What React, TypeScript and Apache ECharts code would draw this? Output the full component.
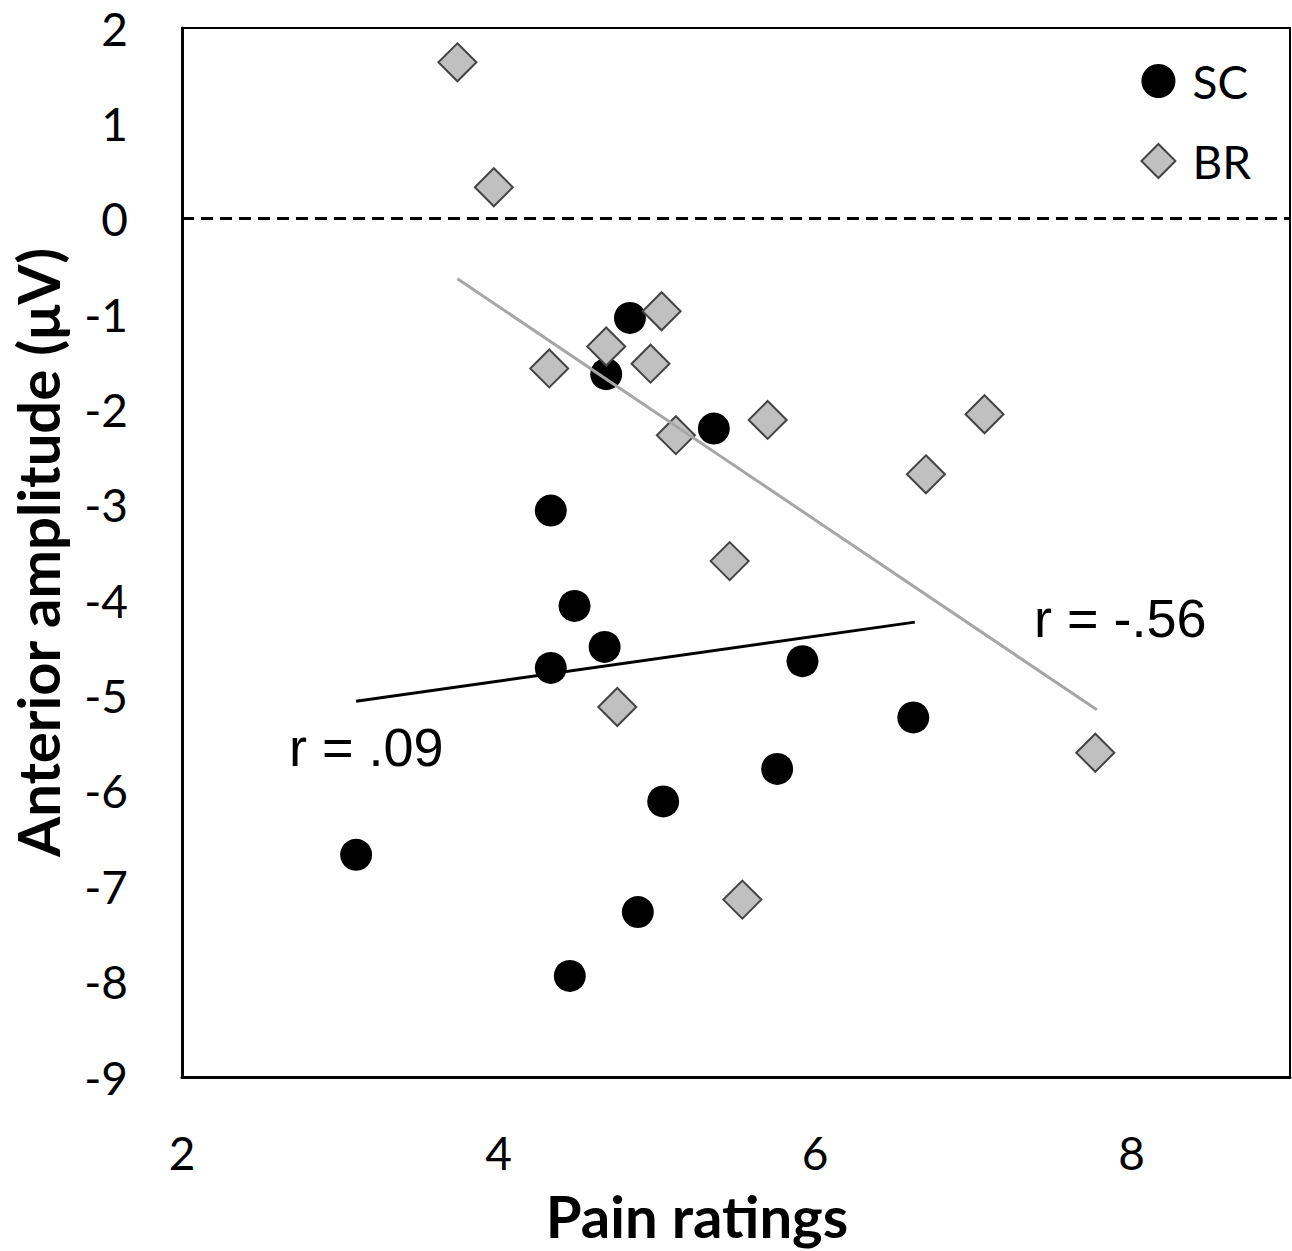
import React, { useEffect, useRef } from "react";
import * as echarts from "echarts";

// SC group (black circles): [pain rating, anterior amplitude]
const scPain = [4.83, 4.68, 5.36, 4.33, 4.48, 4.67, 4.33, 5.92, 6.62, 5.76, 5.04, 3.10, 4.88, 4.45];
const scAmp = [-1.04, -1.63, -2.20, -3.06, -4.06, -4.49, -4.71, -4.64, -5.23, -5.77, -6.11, -6.67, -7.27, -7.94];

// BR group (grey diamonds)
const brPain = [3.74, 3.97, 5.03, 4.68, 4.96, 4.32, 5.70, 5.12, 7.07, 6.70, 5.46, 4.75, 7.77, 5.54];
const brAmp = [1.64, 0.33, -0.97, -1.34, -1.52, -1.57, -2.11, -2.27, -2.05, -2.68, -3.59, -5.12, -5.60, -7.14];

// Trend line endpoints
const scTrendX = [3.10, 6.63];
const scTrendY = [-5.06, -4.23];
const brTrendX = [3.74, 7.78];
const brTrendY = [-0.63, -5.15];

const xTicks = [2, 4, 6, 8];
const yTicks = [2, 1, 0, -1, -2, -3, -4, -5, -6, -7, -8, -9];

const scR = "r = .09";
const brR = "r = -.56";

const zip = (a: number[], b: number[]) => a.map((v, i) => [v, b[i]]);

export default function App() {
  const ref = useRef<HTMLDivElement>(null);
  useEffect(() => {
    if (!ref.current) return;
    const chart = echarts.init(ref.current, undefined, { renderer: "svg" });
    const tickFont = { fontFamily: "Lato", fontSize: 46, color: "#000" };
    chart.setOption({
      animation: false,
      backgroundColor: "#fff",
      grid: {
        left: 182,
        right: 2,
        top: 28,
        bottom: 174,
        show: true,
        borderColor: "#000",
        borderWidth: 2,
        containLabel: false,
        outerBoundsMode: "none",
      },
      legend: {
        orient: "vertical",
        right: 36,
        top: 53,
        itemWidth: 34,
        itemHeight: 34,
        itemGap: 34,
        textStyle: { fontFamily: "Lato", fontSize: 46, lineHeight: 46, color: "#000", padding: [0, 0, 0, 12] },
        data: [
          { name: "SC", icon: "circle" },
          { name: "BR", icon: "diamond" },
        ],
      },
      xAxis: {
        type: "value",
        min: 2,
        max: 9,
        interval: 2,
        splitLine: { show: false },
        axisTick: { show: false },
        axisLine: { show: true, onZero: false, lineStyle: { color: "#000", width: 3 } },
        axisLabel: {
          ...tickFont,
          margin: 52,
          formatter: (v: number) => (xTicks.includes(v) ? String(v) : ""),
        },
        name: "Pain ratings",
        nameLocation: "middle",
        nameGap: 109,
        nameTextStyle: {
          fontFamily: "Lato",
          fontWeight: "bold",
          fontSize: 58,
          color: "#000",
          padding: [0, 78, 0, 0],
        },
      },
      yAxis: {
        type: "value",
        min: -9,
        max: 2,
        interval: 1,
        splitLine: { show: false },
        axisTick: { show: false },
        axisLine: { show: true, onZero: false, lineStyle: { color: "#000", width: 3 } },
        axisLabel: {
          ...tickFont,
          margin: 54,
          formatter: (v: number) => (yTicks.includes(v) ? String(v) : ""),
        },
        name: "Anterior amplitude (μV)",
        nameLocation: "middle",
        nameGap: 116,
        nameTextStyle: {
          fontFamily: "Lato",
          fontWeight: "bold",
          fontSize: 58,
          color: "#000",
        },
      },
      series: [
        {
          name: "SC",
          type: "scatter",
          symbol: "circle",
          symbolSize: 32,
          z: 2,
          itemStyle: { color: "#000", opacity: 1 },
          data: zip(scPain, scAmp),
          markLine: {
            silent: true,
            symbol: "none",
            label: { show: false },
            lineStyle: { color: "#000", width: 3, type: [12, 7], opacity: 1 },
            data: [{ yAxis: 0 }],
          },
        },
        {
          name: "BR",
          type: "scatter",
          symbol: "diamond",
          symbolSize: 38,
          z: 3,
          itemStyle: { color: "#c0c0c0", borderColor: "#444", borderWidth: 2, opacity: 1 },
          data: zip(brPain, brAmp),
        },
        {
          name: "SC trend",
          type: "line",
          showSymbol: false,
          symbol: "none",
          z: 4,
          lineStyle: { color: "#000", width: 3 },
          data: zip(scTrendX, scTrendY),
        },
        {
          name: "BR trend",
          type: "line",
          showSymbol: false,
          symbol: "none",
          z: 4,
          lineStyle: { color: "#a6a6a6", width: 3 },
          data: zip(brTrendX, brTrendY),
        },
      ],
      graphic: [
        {
          type: "text",
          left: 289,
          top: 720,
          style: { text: scR, fontFamily: "Liberation Sans", fontSize: 54, fill: "#000" },
        },
        {
          type: "text",
          left: 1034,
          top: 591,
          style: { text: brR, fontFamily: "Liberation Sans", fontSize: 54, fill: "#000" },
        },
      ],
    });
    return () => chart.dispose();
  }, []);
  return (
    <div
      ref={ref}
      style={{ position: "absolute", left: 0, top: 0, width: 1292, height: 1251 }}
    />
  );
}
